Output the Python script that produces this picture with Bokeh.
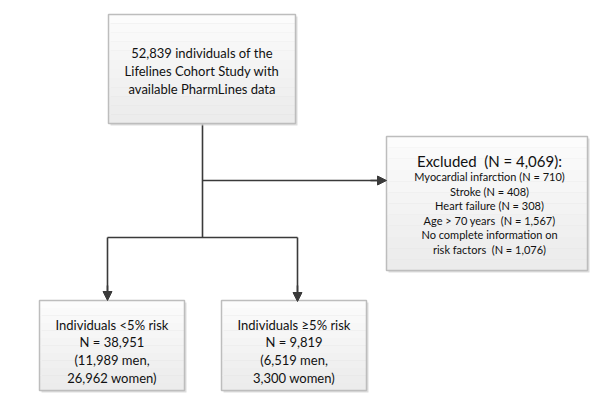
from bokeh.plotting import figure
from bokeh.models import Range1d, Arrow, NormalHead
from bokeh.core.properties import value
from bokeh.embed import file_html
from bokeh.resources import INLINE

# ---- data ----
total_n = 52839
excl_labels = ["Myocardial infarction", "Stroke", "Heart failure", "Age > 70 years", "No complete information on|risk factors"]
excl_counts = [710, 408, 308, 1567, 1076]
excluded_n = 4069
group_labels = ["Individuals <5% risk", "Individuals \u22655% risk"]
group_n = [38951, 9819]
group_men = [11989, 6519]
group_women = [26962, 3300]

# ---- layout (pixel-like coordinates) ----
W, H = 590, 393
p = figure(width=W, height=H, output_backend="svg", toolbar_location=None,
           x_range=Range1d(0, W), y_range=Range1d(H, 0), min_border=0)
p.axis.visible = False
p.grid.visible = False
p.outline_line_color = None
p.background_fill_color = "white"

FONT = value("Lato")
LINE = "#3a3a3a"

def box(x0, x1, y0, y1):
    p.quad(left=[x0 + 2], right=[x1 + 2], top=[y0 + 2], bottom=[y1 + 2],
           fill_color="#d4d4d4", line_color=None, fill_alpha=0.8)
    n = 12
    for i in range(n):
        a = y0 + (y1 - y0) * i / n
        b = y0 + (y1 - y0) * (i + 1) / n
        g = int(252 - 16 * i / (n - 1))
        p.quad(left=[x0], right=[x1], top=[a], bottom=[b],
               fill_color=f"#{g:02x}{g:02x}{g:02x}", line_color=None)
    p.quad(left=[x0], right=[x1], top=[y0], bottom=[y1],
           fill_color=None, line_color="#bdbdbd", line_width=1.5)

def lines(texts, cx, y_first, step, size):
    ys = [y_first + i * step for i in range(len(texts))]
    p.text(x=[cx] * len(texts), y=ys, text=texts, text_align="center",
           text_baseline="middle", text_font=FONT, text_font_size=size,
           text_color="#111111")

# connectors
p.segment(x0=[202, 202, 107, 107, 297], y0=[123, 180, 237, 237, 237],
          x1=[202, 380, 297, 107, 297], y1=[237, 180, 237, 294, 294],
          line_color=LINE, line_width=1.6)
for (xa, ya, xb, yb) in [(370, 180, 386, 180), (107, 285, 107, 300), (297, 285, 297, 301)]:
    p.add_layout(Arrow(x_start=xa, y_start=ya, x_end=xb, y_end=yb,
                       line_color=LINE, line_width=1.6,
                       end=NormalHead(size=9, fill_color=LINE, line_color=LINE)))

# top box
box(108, 295, 14, 123)
lines([f"{total_n:,} individuals of the", "Lifelines Cohort Study with",
       "available PharmLines data"], 201.5, 52, 18, "13px")

# excluded box
box(386, 587, 136, 270)
lines([f"Excluded\u2002(N = {excluded_n:,}):"], 489, 160, 0, "15px")
ex_lines = []
for lab, c in zip(excl_labels, excl_counts):
    parts = lab.split("|")
    if len(parts) == 1:
        sep = "\u2002" if lab.startswith("Age") else " "
        ex_lines.append(f"{lab}{sep}(N = {c:,})")
    else:
        ex_lines.append(parts[0])
        ex_lines.append(f"{parts[1]}\u2002(N = {c:,})")
lines(ex_lines, 489, 176, 14.6, "11px")

# group boxes
gx = [(39, 184), (221, 366)]
for (x0, x1), lab, n, m, w in zip(gx, group_labels, group_n, group_men, group_women):
    box(x0, x1, 300, 390)
    lines([lab, f"N = {n:,}", f"({m:,} men,", f"{w:,} women)"],
          (x0 + x1) / 2, 324, 17.7, "13px")

open("out.html", "w").write(file_html(p, INLINE))
